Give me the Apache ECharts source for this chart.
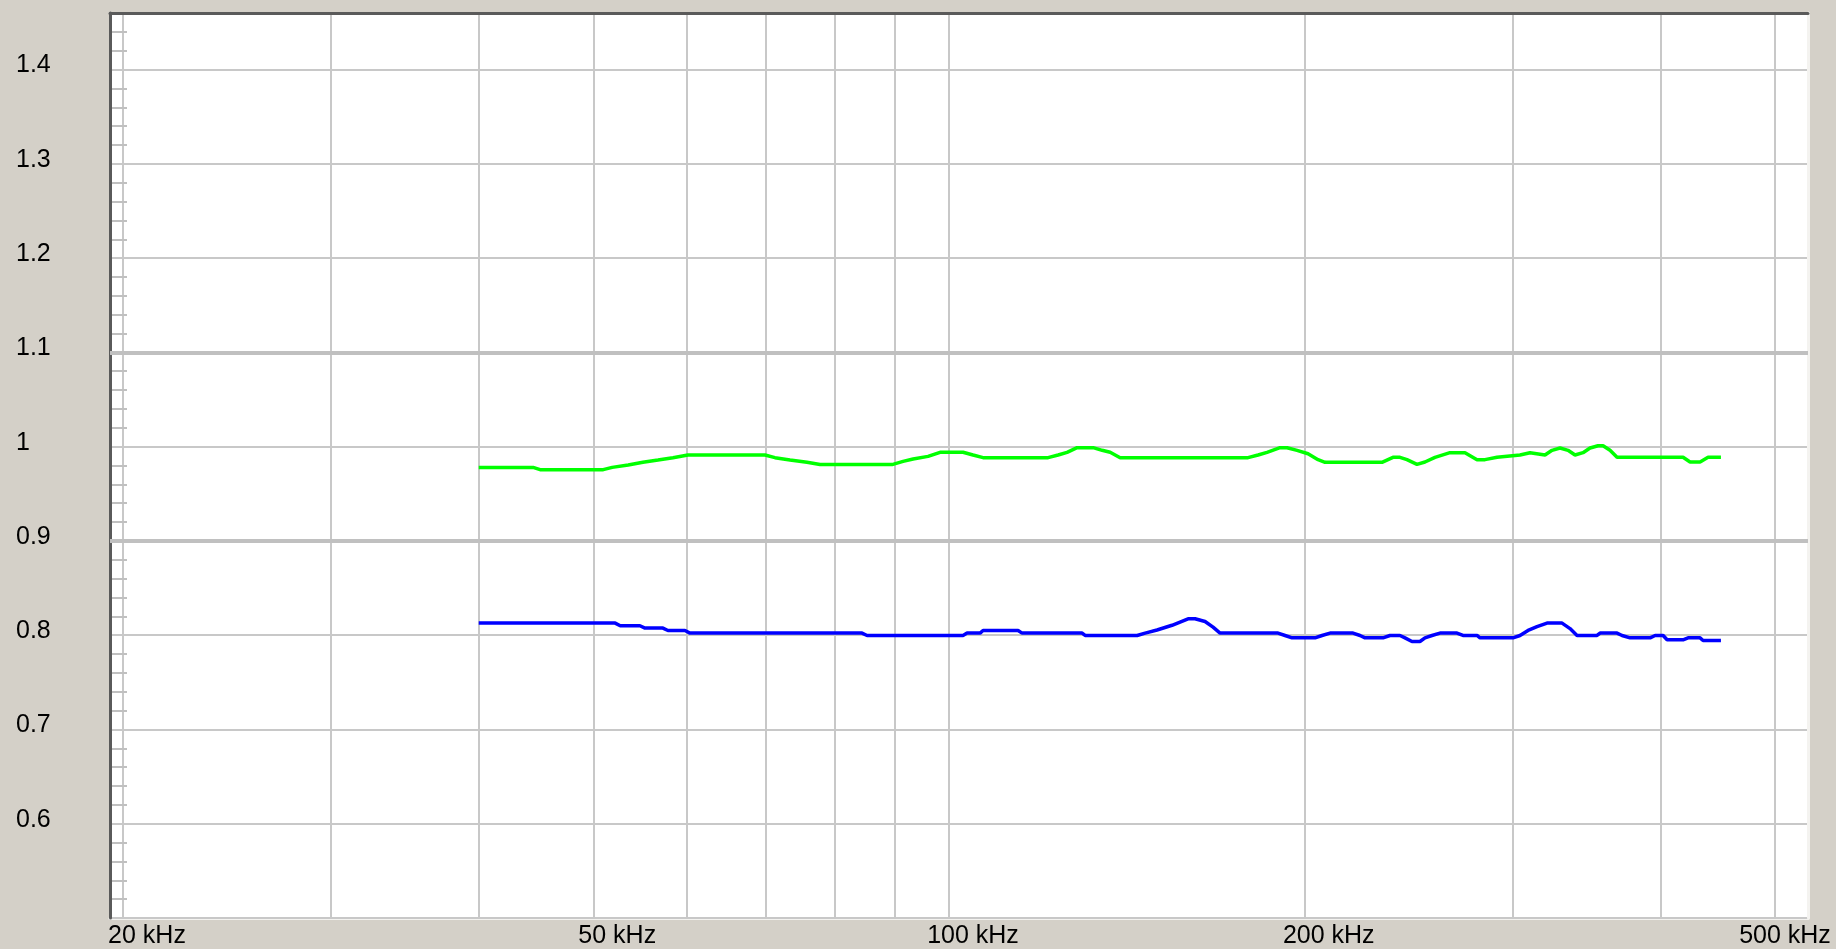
<!DOCTYPE html>
<html><head><meta charset="utf-8">
<script src="https://cdn.jsdelivr.net/npm/echarts@6/dist/echarts.min.js"></script>
<style>html,body{margin:0;padding:0;background:#d4d0c8;}#c{width:1836px;height:949px;}</style>
</head><body><div id="c"></div>
<script>
// Frequencies in kHz
const greenFreq = [40.0, 44.47, 45.08, 50.98, 51.88, 53.52, 55.08, 56.72, 58.40, 60.13,
  69.87, 71.24, 73.36, 75.83, 77.78, 89.50, 91.44, 93.24, 96.00, 98.27,
  102.77, 104.80, 106.86, 121.30, 123.69, 125.87, 128.35, 132.42, 134.77, 136.89,
  139.58, 179.08, 182.61, 185.84, 190.60, 193.22, 197.03, 201.29, 205.25, 208.07,
  232.48, 237.51, 240.78, 244.08, 248.89, 252.80, 257.78, 265.42, 273.30, 279.77,
  284.16, 290.89, 304.22, 310.21, 319.41, 323.80, 328.89, 334.06, 338.65, 343.97,
  348.70, 354.18, 357.65, 362.55, 367.53, 418.0, 423.74, 432.07, 438.86, 450.0];
const greenVal = [0.978, 0.978, 0.9756, 0.9756, 0.978, 0.9805, 0.9834, 0.9858, 0.9883, 0.9911,
  0.9911, 0.9883, 0.9858, 0.9834, 0.981, 0.981, 0.9844, 0.9869, 0.9897, 0.994,
  0.994, 0.9911, 0.9883, 0.9883, 0.9911, 0.994, 0.9989, 0.9989, 0.9961, 0.994,
  0.9883, 0.9883, 0.9911, 0.994, 0.9989, 0.9989, 0.9961, 0.9925, 0.9862, 0.9834,
  0.9834, 0.9887, 0.9887, 0.9862, 0.9812, 0.9837, 0.9887, 0.9936, 0.9936, 0.9862,
  0.9862, 0.9887, 0.9911, 0.9936, 0.9911, 0.9961, 0.9986, 0.9961, 0.9911, 0.9936,
  0.9986, 1.001, 1.001, 0.9961, 0.9887, 0.9887, 0.9837, 0.9837, 0.9887, 0.9887];

const blueFreq = [40.0, 52.18, 52.70, 54.76, 55.30, 57.27, 57.83, 59.78, 60.37, 84.41,
  85.24, 102.77, 103.58, 106.24, 106.86, 114.40, 115.30, 129.61, 130.37, 144.28,
  146.55, 149.98, 154.43, 159.33, 161.51, 164.69, 167.28, 169.58, 189.86, 192.47,
  195.12, 204.06, 206.85, 210.11, 219.73, 222.75, 224.93, 232.94, 236.13, 240.78,
  243.14, 246.47, 250.34, 252.80, 256.27, 260.30, 269.07, 272.23, 279.77, 281.41,
  300.09, 304.22, 309.01, 314.47, 320.66, 330.20, 335.36, 339.97, 353.49, 355.56,
  367.53, 371.14, 376.97, 392.0, 395.84, 402.06, 405.20, 418.0, 422.09, 432.07,
  434.61, 450.0];
const blueVal = [0.8128, 0.8128, 0.81, 0.81, 0.8075, 0.8075, 0.805, 0.805, 0.8022, 0.8022,
  0.7997, 0.7997, 0.8022, 0.8022, 0.805, 0.805, 0.8022, 0.8022, 0.7997, 0.7997,
  0.8022, 0.8055, 0.8105, 0.8174, 0.8174, 0.8145, 0.8085, 0.8022, 0.8022, 0.7997,
  0.7972, 0.7972, 0.7997, 0.8022, 0.8022, 0.7997, 0.7972, 0.7972, 0.7997, 0.7997,
  0.7972, 0.7933, 0.7933, 0.7972, 0.7997, 0.8022, 0.8022, 0.7997, 0.7997, 0.7972,
  0.7972, 0.7997, 0.805, 0.809, 0.8128, 0.8128, 0.807, 0.7997, 0.7997, 0.8022,
  0.8022, 0.7997, 0.7972, 0.7972, 0.7997, 0.7997, 0.7951, 0.7951, 0.7972, 0.7972,
  0.7944, 0.7944];

const gridFreqs = [20, 30, 40, 50, 60, 70, 80, 90, 100, 200, 300, 400, 500];
const xLabelFreqs = [20, 50, 100, 200, 500];
const limitLines = [0.9, 1.1];
const yMin = 0.5, yMax = 1.46;
const xMin = 19.5, xMax = 533.2;

function zip(a, b) { return a.map((f, i) => [f, b[i]]); }
const FONT = 'Liberation Sans';
const TXT = '#000000';

const chart = echarts.init(document.getElementById('c'), null, { renderer: 'canvas' });
chart.setOption({
  animation: false,
  backgroundColor: '#d4d0c8',
  grid: { left: 110, top: 13, right: 28, bottom: 30, show: true, backgroundColor: '#ffffff', borderWidth: 0 },
  xAxis: [
    {
      type: 'log', logBase: 10, min: xMin, max: xMax, position: 'bottom',
      axisLine: { show: true, lineStyle: { color: '#f4f3f0', width: 3 } },
      axisTick: { show: false, customValues: gridFreqs },
      minorTick: { show: false }, minorSplitLine: { show: false },
      splitLine: { show: true, lineStyle: { color: '#c8c8c8', width: 2 } },
      axisLabel: {
        customValues: xLabelFreqs, margin: 6, color: TXT, fontFamily: FONT, fontSize: 25,
        formatter: function (v) {
          const n = Math.round(v);
          return (n === 500 ? '{e|' : '{n|') + n + ' kHz}';
        },
        rich: {
          n: { padding: [0, 0, 0, 48], fontFamily: FONT, fontSize: 25, color: TXT },
          e: { padding: [0, 0, 0, 20], fontFamily: FONT, fontSize: 25, color: TXT }
        }
      }
    },
    {
      type: 'value', position: 'top', min: 0, max: 1, z: 4,
      axisLine: { show: true, lineStyle: { color: '#5a5a5a', width: 3 } },
      axisTick: { show: false }, axisLabel: { show: false }, splitLine: { show: false }
    }
  ],
  yAxis: [
    {
      type: 'value', position: 'left', min: yMin, max: yMax, interval: 0.1, z: 3,
      axisLine: { show: true, lineStyle: { color: '#5a5a5a', width: 3 } },
      axisTick: { show: false },
      splitLine: { show: true, lineStyle: { color: '#c8c8c8', width: 2 } },
      axisLabel: {
        showMinLabel: false, showMaxLabel: false, align: 'left', margin: 94,
        verticalAlign: 'bottom', lineHeight: 8,
        color: TXT, fontFamily: FONT, fontSize: 25
      }
    },
    {
      type: 'value', position: 'left', min: yMin, max: yMax, interval: 0.02,
      axisLine: { show: false },
      axisTick: { show: true, inside: true, length: 17, lineStyle: { color: '#c0c0c0', width: 2 } },
      axisLabel: { show: false }, splitLine: { show: false }
    },
    {
      type: 'value', position: 'right', min: 0, max: 1, z: 4,
      axisLine: { show: true, lineStyle: { color: '#f4f3f0', width: 3 } },
      axisTick: { show: false }, axisLabel: { show: false }, splitLine: { show: false }
    }
  ],
  series: [
    {
      type: 'line', xAxisIndex: 0, yAxisIndex: 0, data: zip(greenFreq, greenVal),
      showSymbol: false, symbol: 'none', lineStyle: { color: '#00ff00', width: 3.5 },
      silent: true, z: 3,
      markLine: {
        silent: true, symbol: 'none', label: { show: false },
        lineStyle: { color: '#c0c0c0', width: 4, type: 'solid' },
        data: limitLines.map(v => ({ yAxis: v }))
      }
    },
    {
      type: 'line', xAxisIndex: 0, yAxisIndex: 0, data: zip(blueFreq, blueVal),
      showSymbol: false, symbol: 'none', lineStyle: { color: '#0000ff', width: 3.5 },
      silent: true, z: 3
    }
  ]
});
</script></body></html>
